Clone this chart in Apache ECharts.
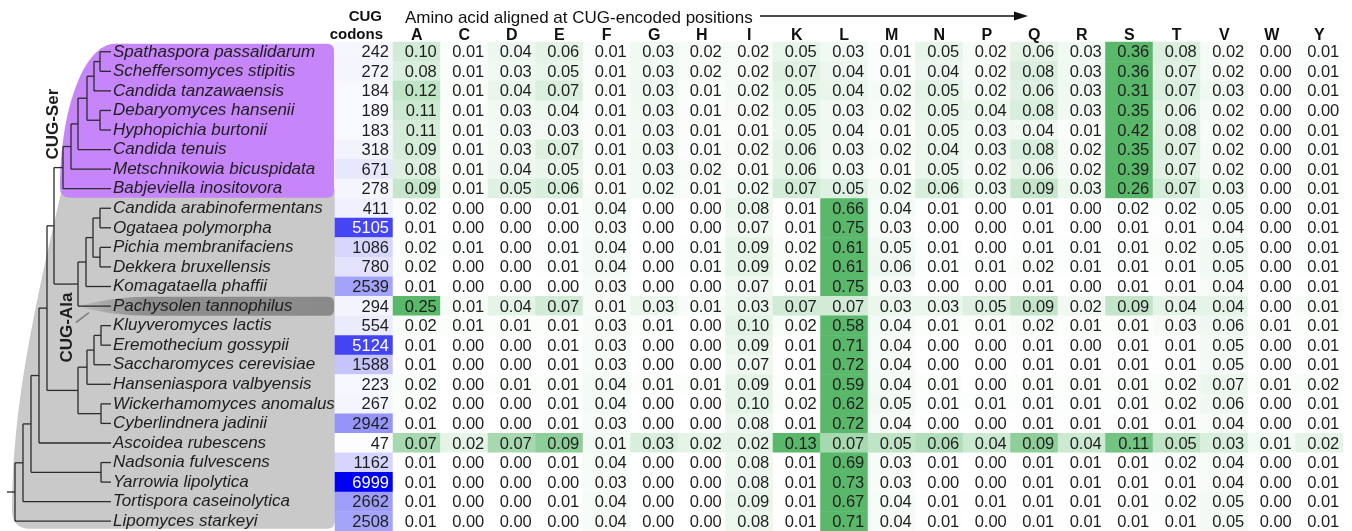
<!DOCTYPE html>
<html><head><meta charset="utf-8">
<script src="https://cdn.jsdelivr.net/npm/echarts@6/dist/echarts.min.js"></script>
<style>html,body{margin:0;padding:0;background:#fff}#c{width:1352px;height:531px}</style>
</head><body><div id="c"></div>
<script>
const aminoAcids = ['A','C','D','E','F','G','H','I','K','L','M','N','P','Q','R','S','T','V','W','Y'];
const species = [
  'Spathaspora passalidarum','Scheffersomyces stipitis','Candida tanzawaensis','Debaryomyces hansenii',
  'Hyphopichia burtonii','Candida tenuis','Metschnikowia bicuspidata','Babjeviella inositovora',
  'Candida arabinofermentans','Ogataea polymorpha','Pichia membranifaciens','Dekkera bruxellensis',
  'Komagataella phaffii','Pachysolen tannophilus','Kluyveromyces lactis','Eremothecium gossypii',
  'Saccharomyces cerevisiae','Hanseniaspora valbyensis','Wickerhamomyces anomalus','Cyberlindnera jadinii',
  'Ascoidea rubescens','Nadsonia fulvescens','Yarrowia lipolytica','Tortispora caseinolytica','Lipomyces starkeyi'
];
const cugCodons = [242,272,184,189,183,318,671,278,411,5105,1086,780,2539,294,554,5124,1588,223,267,2942,47,1162,6999,2662,2508];
// rows follow species; columns follow aminoAcids
const fractions = [
  [0.10,0.01,0.04,0.06,0.01,0.03,0.02,0.02,0.05,0.03,0.01,0.05,0.02,0.06,0.03,0.36,0.08,0.02,0.00,0.01],
  [0.08,0.01,0.03,0.05,0.01,0.03,0.02,0.02,0.07,0.04,0.01,0.04,0.02,0.08,0.03,0.36,0.07,0.02,0.00,0.01],
  [0.12,0.01,0.04,0.07,0.01,0.03,0.01,0.02,0.05,0.04,0.02,0.05,0.02,0.06,0.03,0.31,0.07,0.03,0.00,0.01],
  [0.11,0.01,0.03,0.04,0.01,0.03,0.01,0.02,0.05,0.03,0.02,0.05,0.04,0.08,0.03,0.35,0.06,0.02,0.00,0.00],
  [0.11,0.01,0.03,0.03,0.01,0.03,0.01,0.01,0.05,0.04,0.01,0.05,0.03,0.04,0.01,0.42,0.08,0.02,0.00,0.01],
  [0.09,0.01,0.03,0.07,0.01,0.03,0.01,0.02,0.06,0.03,0.02,0.04,0.03,0.08,0.02,0.35,0.07,0.02,0.00,0.01],
  [0.08,0.01,0.04,0.05,0.01,0.03,0.02,0.01,0.06,0.03,0.01,0.05,0.02,0.06,0.02,0.39,0.07,0.02,0.00,0.01],
  [0.09,0.01,0.05,0.06,0.01,0.02,0.01,0.02,0.07,0.05,0.02,0.06,0.03,0.09,0.03,0.26,0.07,0.03,0.00,0.01],
  [0.02,0.00,0.00,0.01,0.04,0.00,0.00,0.08,0.01,0.66,0.04,0.01,0.00,0.01,0.00,0.02,0.02,0.05,0.00,0.01],
  [0.01,0.00,0.00,0.00,0.03,0.00,0.00,0.07,0.01,0.75,0.03,0.00,0.00,0.01,0.00,0.01,0.01,0.04,0.00,0.01],
  [0.02,0.01,0.00,0.01,0.04,0.00,0.01,0.09,0.02,0.61,0.05,0.01,0.00,0.01,0.01,0.01,0.02,0.05,0.00,0.01],
  [0.02,0.00,0.00,0.01,0.04,0.00,0.01,0.09,0.02,0.61,0.06,0.01,0.01,0.02,0.01,0.01,0.01,0.05,0.00,0.01],
  [0.01,0.00,0.00,0.00,0.03,0.00,0.00,0.07,0.01,0.75,0.03,0.00,0.00,0.01,0.00,0.01,0.01,0.04,0.00,0.01],
  [0.25,0.01,0.04,0.07,0.01,0.03,0.01,0.03,0.07,0.07,0.03,0.03,0.05,0.09,0.02,0.09,0.04,0.04,0.00,0.01],
  [0.02,0.01,0.01,0.01,0.03,0.01,0.00,0.10,0.02,0.58,0.04,0.01,0.01,0.02,0.01,0.01,0.03,0.06,0.01,0.01],
  [0.01,0.00,0.00,0.01,0.03,0.00,0.00,0.09,0.01,0.71,0.04,0.00,0.00,0.01,0.00,0.01,0.01,0.05,0.00,0.01],
  [0.01,0.00,0.00,0.01,0.03,0.00,0.00,0.07,0.01,0.72,0.04,0.00,0.00,0.01,0.01,0.01,0.01,0.05,0.00,0.01],
  [0.02,0.00,0.01,0.01,0.04,0.01,0.01,0.09,0.01,0.59,0.04,0.01,0.00,0.01,0.01,0.01,0.02,0.07,0.01,0.02],
  [0.02,0.00,0.00,0.01,0.04,0.00,0.00,0.10,0.02,0.62,0.05,0.01,0.01,0.01,0.01,0.01,0.02,0.06,0.00,0.01],
  [0.01,0.00,0.00,0.01,0.03,0.00,0.00,0.08,0.01,0.72,0.04,0.00,0.00,0.01,0.01,0.01,0.01,0.04,0.00,0.01],
  [0.07,0.02,0.07,0.09,0.01,0.03,0.02,0.02,0.13,0.07,0.05,0.06,0.04,0.09,0.04,0.11,0.05,0.03,0.01,0.02],
  [0.01,0.00,0.00,0.01,0.04,0.00,0.00,0.08,0.01,0.69,0.03,0.01,0.00,0.01,0.01,0.01,0.02,0.04,0.00,0.01],
  [0.01,0.00,0.00,0.00,0.03,0.00,0.00,0.08,0.01,0.73,0.03,0.00,0.00,0.01,0.01,0.01,0.01,0.04,0.00,0.01],
  [0.01,0.00,0.00,0.01,0.04,0.00,0.00,0.09,0.01,0.67,0.04,0.01,0.01,0.01,0.01,0.01,0.02,0.05,0.00,0.01],
  [0.01,0.00,0.00,0.00,0.04,0.00,0.00,0.08,0.01,0.71,0.04,0.01,0.00,0.01,0.01,0.01,0.01,0.05,0.00,0.01]
];
// tree: internal node = [branch depth, child, child]; leaf = row index
const cugSerClade = [63, [71, [78, [87, [94, [100, 0, 1], 2], [100, 3, 4]], 5], 6], 7];
const pichiaceaeClade = [78, [86, [93, [100, 8, 9], [100, 10, 11]], 12], 13];
const saccharomycetaceaeClade = [78, [87, [94, [101, 14, 15], 16], 17], [101, 18, 19]];
const treeTopology = [15, [23, [31, [39, [47, [54, cugSerClade, pichiaceaeClade], saccharomycetaceaeClade], 20], [101, 21, 22]], 23], 24];
const tipDepth = 111, rootStubDepth = 7;

const FONT = '"Liberation Sans", Arial, Helvetica, sans-serif';
const chart = echarts.init(document.getElementById('c'));

const rowMax = fractions.map(r => Math.max.apply(null, r));
const heatData = [];
fractions.forEach((row, i) => row.forEach((v, j) => heatData.push([j, i, v / rowMax[i], v])));
const codonData = cugCodons.map((v, i) => ({value: [0, i, v], label: {color: v > 4000 ? '#ffffff' : '#1e1e1e'}}));

function collectTree(node, parentX, segs) {
  if (typeof node === 'number') { segs.push([parentX, node, tipDepth, node]); return node; }
  const x = node[0];
  const ys = node.slice(1).map(c => collectTree(c, x, segs));
  const y0 = Math.min.apply(null, ys), y1 = Math.max.apply(null, ys);
  segs.push([x, y0, x, y1]);
  const y = (y0 + y1) / 2;
  segs.push([parentX, y, x, y]);
  return y;
}
const treeSegs = [];
collectTree(treeTopology, rootStubDepth, treeSegs);

function renderTree(params, api) {
  const P = (x, r) => api.coord([x, r]);
  const py = r => api.coord([0, r])[1];
  const els = [];
  const k = 0.5523;
  // gray CUG-Ala background
  const gt = py(7.0), gb = py(24.39);
  els.push({type: 'path', shape: {pathData:
    `M62,${gt} L335,${gt} L335,${gb - 8} Q335,${gb} 327,${gb} L30,${gb} Q12,${gb} 12,${gb - 19} C12,${gb - 120} 34,${gt + 120} 62,${gt} Z`},
    style: {fill: '#c9c9c9'}});
  // purple CUG-Ser background
  const t = py(-0.41), b = py(7.46);
  els.push({type: 'path', shape: {pathData:
    `M115,${t} L327,${t} Q334,${t} 334,${t + 7} L334,${b - 7} Q334,${b} 327,${b} L70,${b} Q60,${b} 60,${b - 10} C60,${(b - 10) - k * (b - 10 - t)} ${115 - k * 55},${t} 115,${t} Z`},
    style: {fill: '#c685f8'}});
  // Pachysolen band
  const bt = py(12.52), bb = py(13.5), bm = (bt + bb) / 2;
  els.push({type: 'path', shape: {pathData:
    `M78,${bm} Q110,${bt} 150,${bt} L328,${bt} Q334,${bt} 334,${bt + 6} L334,${bb - 6} Q334,${bb} 328,${bb} L150,${bb} Q110,${bb} 78,${bm} Z`},
    style: {fill: {type: 'linear', x: 0, y: 0, x2: 1, y2: 0, colorStops: [
      {offset: 0, color: 'rgba(140,140,140,0.2)'}, {offset: 0.25, color: '#8f8f8f'}, {offset: 1, color: '#8a8a8a'}]}}});
  // branches
  treeSegs.forEach(s => {
    const p0 = P(s[0], s[1]), p1 = P(s[2], s[3]);
    els.push({type: 'line', shape: {x1: p0[0], y1: p0[1], x2: p1[0], y2: p1[1]},
      style: {stroke: '#2b2b2b', lineWidth: 1.3}});
  });
  // species names
  species.forEach((name, i) => {
    const p = P(113, i);
    els.push({type: 'text', x: p[0], y: p[1], style: {text: name, fill: '#1e1e1e', fontSize: 17,
      fontStyle: 'italic', fontFamily: FONT, align: 'left', verticalAlign: 'middle'}});
  });
  // clade labels
  const ps = P(53, 3.7);
  els.push({type: 'text', x: ps[0], y: ps[1], rotation: Math.PI / 2, style: {text: 'CUG-Ser', fill: '#1e1e1e',
    fontSize: 17, fontWeight: 'bold', fontFamily: FONT, align: 'center', verticalAlign: 'middle'}});
  const pa = P(67, 14.1);
  els.push({type: 'text', x: pa[0], y: pa[1], rotation: Math.PI / 2, style: {text: 'CUG-Ala', fill: '#1e1e1e',
    fontSize: 17, fontWeight: 'bold', fontFamily: FONT, align: 'center', verticalAlign: 'middle'}});
  const d0 = P(76, 13.84), d1 = P(89, 13.34);
  els.push({type: 'line', shape: {x1: d0[0], y1: d0[1], x2: d1[0], y2: d1[1]}, style: {stroke: '#808080', lineWidth: 1.6}});
  return {type: 'group', children: els};
}

const gridTop = 42, gridH = 489;
const option = {
  animation: false,
  backgroundColor: '#ffffff',
  textStyle: {fontFamily: FONT},
  grid: [
    {left: 0, top: gridTop, width: 335, height: gridH},
    {left: 335, top: gridTop, width: 58, height: gridH},
    {left: 393, top: gridTop, width: 950, height: gridH}
  ],
  xAxis: [
    {gridIndex: 0, type: 'value', min: 0, max: 335, show: false},
    {gridIndex: 1, type: 'category', data: ['codons'], show: false},
    {gridIndex: 2, type: 'category', data: aminoAcids, position: 'top', z: 10,
      axisLine: {show: false}, axisTick: {show: false}, splitLine: {show: false},
      axisLabel: {interval: 0, margin: -2, fontSize: 16, fontWeight: 'bold', color: '#111', fontFamily: FONT}}
  ],
  yAxis: [
    {gridIndex: 0, type: 'value', min: -0.5, max: 24.5, inverse: true, show: false},
    {gridIndex: 1, type: 'category', data: species, inverse: true, show: false},
    {gridIndex: 2, type: 'category', data: species, inverse: true, show: false}
  ],
  visualMap: [
    {type: 'continuous', show: false, seriesIndex: 1, dimension: 2, min: 0, max: 7000,
      inRange: {color: ['#ffffff', '#0000f2']}},
    {type: 'continuous', show: false, seriesIndex: 2, dimension: 2, min: 0, max: 1,
      inRange: {color: ['#ffffff', '#5ab86b']}}
  ],
  graphic: [
    {type: 'text', x: 382, y: 17, style: {text: 'CUG', fontSize: 15, fontWeight: 'bold', fontFamily: FONT,
      fill: '#111', align: 'right', verticalAlign: 'middle'}},
    {type: 'text', x: 383, y: 35, style: {text: 'codons', fontSize: 15, fontWeight: 'bold', fontFamily: FONT,
      fill: '#111', align: 'right', verticalAlign: 'middle'}},
    {type: 'text', x: 405, y: 18, style: {text: 'Amino acid aligned at CUG-encoded positions', fontSize: 17,
      fontFamily: FONT, fill: '#111', align: 'left', verticalAlign: 'middle'}},
    {type: 'line', shape: {x1: 760, y1: 16, x2: 1018, y2: 16}, style: {stroke: '#111', lineWidth: 1.6}},
    {type: 'polygon', shape: {points: [[1014, 11.5], [1028, 16], [1014, 20.5]]}, style: {fill: '#111'}}
  ],
  series: [
    {type: 'custom', xAxisIndex: 0, yAxisIndex: 0, data: [[0, 0]], renderItem: renderTree, clip: false, silent: true},
    {type: 'heatmap', xAxisIndex: 1, yAxisIndex: 1, data: codonData, silent: true,
      label: {show: true, fontSize: 16.5, fontFamily: FONT, align: 'right', offset: [25, 1],
        formatter: p => String(p.value[2])},
      emphasis: {disabled: true}},
    {type: 'heatmap', xAxisIndex: 2, yAxisIndex: 2, data: heatData, silent: true,
      label: {show: true, fontSize: 16.5, fontFamily: FONT, color: '#1e1e1e', align: 'right', offset: [20, 1],
        formatter: p => p.value[3].toFixed(2)},
      emphasis: {disabled: true}}
  ]
};
chart.setOption(option);
</script>
</body></html>
